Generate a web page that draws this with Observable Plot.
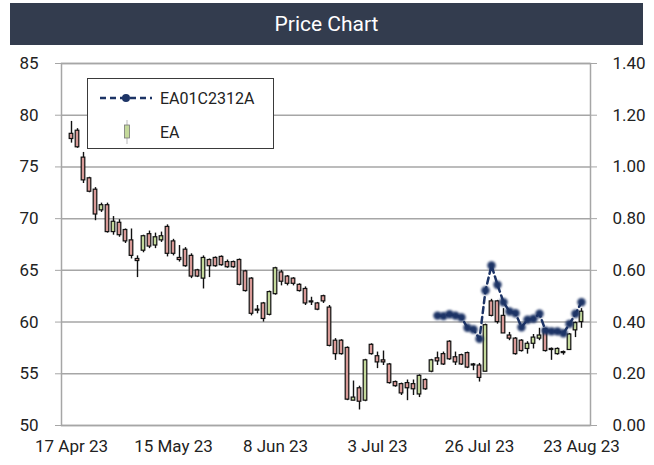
<!DOCTYPE html>
<html><head><meta charset="utf-8">
<script src="https://cdn.jsdelivr.net/npm/d3@7"></script>
<script src="https://cdn.jsdelivr.net/npm/@observablehq/plot@0.6"></script>
<style>
body{margin:0;background:#fff;font-family:Roboto,sans-serif;}
#wrap{position:relative;width:654px;height:465px;overflow:hidden;}
#title{position:absolute;left:10px;top:3px;width:633px;height:42px;background:#333c4e;color:#fff;font-size:21px;line-height:42px;text-align:center;}
#chart{position:absolute;left:0;top:45px;}
#legend{position:absolute;left:87px;top:78px;width:187px;height:71px;border:1px solid #3a3a3a;background:#fff;box-sizing:border-box;font-size:16px;color:#222;}
#legend .row{position:absolute;left:0;height:24px;display:flex;align-items:center;}
#legend svg{position:absolute;left:10px;}
#legend span{position:absolute;left:72px;white-space:nowrap;}
</style></head>
<body>
<div id="wrap">
  <div id="title">Price Chart</div>
  <div id="chart"></div>
  <div id="legend">
    <div class="row" style="top:7px;width:185px"><svg width="56" height="24"><line x1="2" x2="54" y1="12" y2="12" stroke="#1d3466" stroke-width="2.5" stroke-dasharray="6,4"/><circle cx="28" cy="12" r="4" fill="#1d3466" style="filter:blur(0.6px)"/></svg><span>EA01C2312A</span></div>
    <div class="row" style="top:41px;width:185px"><svg width="56" height="24"><line x1="29" x2="29" y1="0" y2="24" stroke="#bbb" stroke-width="1"/><rect x="26.5" y="5" width="5" height="13" fill="#c4d99b" stroke="#777" stroke-width="0.8"/></svg><span>EA</span></div>
  </div>
</div>
<script>
// Category axis labels (every 17 trading days)
const tickIndex = [0, 17, 34, 51, 68, 85];
const tickLabels = ["17 Apr 23", "15 May 23", "8 Jun 23", "3 Jul 23", "26 Jul 23", "23 Aug 23"];

// EA daily OHLC (left axis, THB)
const open  = [78.2,78.5,75.9,73.9,72.8,70.8,71.3,68.7,69.6,68.9,67.9,66.1,66.9,68.5,67.4,67.9,69.2,67.8,66.2,67.0,
               66.4,65.0,64.2,66.0,66.2,66.3,65.8,65.8,66.0,64.9,64.2,61.2,61.8,60.7,62.7,64.8,64.4,64.2,63.6,63.2,
               62.0,61.8,62.5,61.4,58.2,58.2,57.5,52.4,53.6,52.4,57.8,56.7,56.3,55.9,54.2,54.0,54.1,54.0,53.0,54.4,
               55.2,56.5,56.9,58.1,56.6,56.8,57.0,55.9,55.8,55.2,62.0,62.0,60.6,58.7,58.4,58.2,57.4,57.9,58.4,59.3,
               57.4,56.9,57.0,57.3,59.2,60.0];
const high  = [79.4,78.7,76.4,74.0,73.0,71.5,71.5,70.2,69.9,69.0,69.0,66.4,68.4,68.8,68.6,68.7,69.4,68.0,67.4,67.2,
               66.6,65.1,66.4,66.1,66.3,66.4,66.0,65.9,66.1,65.0,64.3,61.6,61.9,63.0,65.3,65.0,64.5,64.3,63.7,63.4,
               62.4,61.9,62.6,61.6,58.4,58.3,57.6,54.3,53.8,56.4,57.9,57.1,57.2,56.0,54.3,54.1,54.4,54.4,54.9,54.5,
               56.4,57.1,57.1,58.2,57.1,56.9,57.1,56.0,56.0,59.8,62.2,62.1,61.3,59.0,58.5,58.3,58.1,58.8,59.4,59.4,
               57.5,57.5,57.2,58.9,60.0,61.3];
const low   = [77.3,76.8,73.4,72.5,69.8,70.6,68.6,68.4,68.2,67.6,66.1,64.3,66.7,67.1,67.1,67.7,66.3,66.4,65.8,65.3,
               64.2,64.3,63.2,64.3,65.3,65.4,65.2,65.2,63.5,62.9,60.6,60.8,60.0,60.6,62.6,63.5,63.5,63.5,62.9,61.6,
               61.6,61.1,61.8,57.6,56.3,56.8,52.4,52.4,51.5,52.3,56.8,55.5,55.8,54.0,53.7,52.9,52.4,52.9,52.7,53.4,
               55.1,55.8,55.8,56.3,55.8,55.8,55.5,55.3,54.2,55.2,60.5,59.8,58.9,58.2,56.8,57.1,56.9,57.4,58.2,57.1,
               56.3,56.8,56.8,57.3,58.5,59.4];
const close = [77.7,76.9,73.7,72.6,70.4,71.3,68.7,69.7,68.4,67.8,66.4,65.9,68.3,67.3,68.2,68.3,66.6,66.6,66.0,65.4,
               64.4,64.4,66.2,65.4,65.4,65.5,65.3,65.3,63.6,63.0,60.8,61.1,60.3,62.9,65.2,63.9,63.7,63.7,63.0,61.8,
               61.9,61.2,62.0,57.7,56.9,56.9,52.5,52.7,52.3,56.3,56.9,56.1,56.1,54.1,53.8,53.1,53.6,53.5,54.8,53.5,
               56.3,56.2,55.9,56.4,56.1,55.9,55.6,55.8,54.6,59.7,60.6,60.0,58.9,58.4,56.9,57.2,57.9,58.5,58.7,57.2,
               57.3,57.4,57.1,58.8,59.9,61.0];

// EA01C2312A warrant price (right axis), from trading day index 61
const warrantStart = 61;
const warrant = [0.425,0.423,0.430,0.425,0.418,0.378,0.371,0.335,0.522,0.619,0.544,0.477,0.441,0.434,0.380,
                 0.409,0.413,0.432,0.367,0.364,0.364,0.357,0.393,0.432,0.477];

// right axis maps 0..1.40 onto left 50..85
const toLeft = v => 50 + v * 25;
const toRight = p => ((p - 50) / 25).toFixed(2);

const idx = d3.range(open.length);
const candles = idx.map(i => ({i, o: open[i], h: high[i], l: low[i], c: close[i]}));
const wdata = warrant.map((v, k) => ({i: warrantStart + k, p: toLeft(v)}));
const yTicks = d3.range(50, 86, 5);
const grid = "#a6a6a6";

const chart = Plot.plot({
  width: 654, height: 420,
  marginTop: 18, marginBottom: 40, marginLeft: 61, marginRight: 64,
  style: {fontFamily: "Roboto, sans-serif", fontSize: "17px", color: "#222", background: "transparent"},
  x: {type: "band", domain: idx, padding: 0},
  y: {domain: [50, 85]},
  marks: [
    Plot.gridY(yTicks, {stroke: grid, strokeOpacity: 1, strokeWidth: 1.5}),
    Plot.frame({stroke: grid, strokeWidth: 1.5}),
    Plot.axisY(yTicks, {anchor: "left", tickSize: 6, tickPadding: 17, stroke: grid, fill: "#222", label: null}),
    Plot.axisY(yTicks, {anchor: "right", tickSize: 6, tickPadding: 16, stroke: grid, fill: "#222", label: null, tickFormat: toRight}),
    Plot.axisX(tickIndex, {tickSize: 0, tickPadding: 14, fill: "#222", label: null, tickFormat: i => tickLabels[tickIndex.indexOf(i)]}),
    Plot.ruleX(candles, {x: "i", y1: "l", y2: "h", stroke: "#111", strokeWidth: 1.4}),
    Plot.barY(candles, {x: "i", y1: d => Math.min(d.o, d.c), y2: d => Math.max(d.o, d.c),
      fill: d => d.c >= d.o ? "#c4d99b" : "#d99a97", stroke: "#111", strokeWidth: 1.2, insetLeft: 1.2, insetRight: 1.2}),
    Plot.line(wdata, {x: "i", y: "p", stroke: "#1d3466", strokeWidth: 2.5, strokeDasharray: "6,4"}),
    Plot.dot(wdata, {x: "i", y: "p", r: 4.2, fill: "#1d3466", stroke: "none"})
  ]
});
document.getElementById("chart").appendChild(chart);
d3.select(chart).selectAll("circle").style("filter", "blur(0.8px)");
</script>
</body></html>
